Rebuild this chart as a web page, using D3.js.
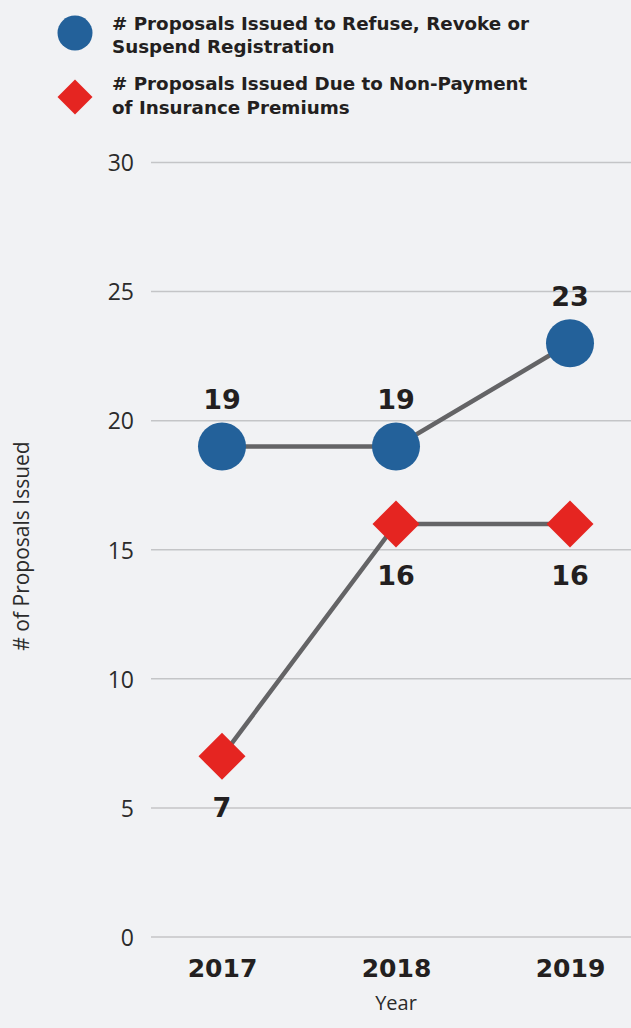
<!DOCTYPE html>
<html><head><meta charset="utf-8">
<script src="https://cdn.jsdelivr.net/npm/d3@7"></script>
<style>
html,body{margin:0;padding:0;background:#f1f2f4;}
svg{display:block;}
</style></head>
<body>
<svg id="c" width="631" height="1028"></svg>
<script>
const years = ["2017", "2018", "2019"];
const refuseValues = [19, 19, 23];
const nonPaymentValues = [7, 16, 16];
const yTicks = [0, 5, 10, 15, 20, 25, 30];
const legendLabels = [
  ["# Proposals Issued to Refuse, Revoke or", "Suspend Registration"],
  ["# Proposals Issued Due to Non-Payment", "of Insurance Premiums"]
];
const yTitle = "# of Proposals Issued";
const xTitle = "Year";

const BLUE = "#23619a", RED = "#e52521", LINE = "#646466", TEXT = "#231f20";
const HEAVY = "DejaVu Sans";
const svg = d3.select("#c");

const x = d3.scalePoint().domain(years).range([222, 570]);
const y = d3.scaleLinear().domain([0, 30]).range([937, 162.5]);

// grid
svg.append("g").selectAll("line").data(yTicks).join("line")
  .attr("x1", 151).attr("x2", 631)
  .attr("y1", d => y(d)).attr("y2", d => y(d))
  .attr("stroke", "#c4c5c7").attr("stroke-width", 1.5);

// y axis labels
const yAxis = d3.axisLeft(y).tickValues(yTicks).tickSize(0).tickPadding(0);
const ga = svg.append("g").attr("transform", "translate(134,0)").call(yAxis);
ga.select(".domain").remove();
ga.selectAll("text").attr("font-family", "Open Sans").attr("font-weight", 400)
  .attr("font-size", 23).attr("fill", "#2b2b2b").attr("dy", "0.36em");

// x axis labels
const xAxis = d3.axisBottom(x).tickSize(0).tickPadding(0);
const gx = svg.append("g").attr("transform", "translate(0,958)").call(xAxis);
gx.select(".domain").remove();
gx.selectAll("text").attr("font-family", HEAVY).attr("font-weight", 700)
  .attr("font-size", 25).attr("fill", TEXT).attr("dy", "0.76em");

svg.append("text").attr("x", 396).attr("y", 1010).attr("text-anchor", "middle")
  .attr("font-family", "Open Sans").attr("font-weight", 400).attr("font-size", 20)
  .attr("fill", "#2b2b2b").text(xTitle);

svg.append("text").attr("transform", "translate(29,546) rotate(-90)")
  .attr("text-anchor", "middle")
  .attr("font-family", "Open Sans").attr("font-weight", 400).attr("font-size", 21)
  .attr("fill", "#2b2b2b").text(yTitle);

const line = d3.line().x((d, i) => x(years[i])).y(d => y(d));
svg.append("path").attr("d", line(nonPaymentValues)).attr("fill", "none")
  .attr("stroke", LINE).attr("stroke-width", 4.5);
svg.append("path").attr("d", line(refuseValues)).attr("fill", "none")
  .attr("stroke", LINE).attr("stroke-width", 4.5);

// markers
svg.append("g").selectAll("circle").data(refuseValues).join("circle")
  .attr("cx", (d, i) => x(years[i])).attr("cy", d => y(d)).attr("r", 24)
  .attr("fill", BLUE);
const diamond = d3.symbol().type(d3.symbolSquare).size(47 * 47 / 2);
svg.append("g").selectAll("path").data(nonPaymentValues).join("path")
  .attr("d", diamond)
  .attr("transform", (d, i) => `translate(${x(years[i])},${y(d)}) rotate(45)`)
  .attr("fill", RED);

// value labels
const lblStyle = s => s.attr("font-family", HEAVY).attr("font-weight", 700)
  .attr("font-size", 27).attr("fill", TEXT).attr("text-anchor", "middle");
svg.append("g").selectAll("text").data(refuseValues).join("text")
  .attr("x", (d, i) => x(years[i])).attr("y", d => y(d) - 37)
  .text(d => d).call(lblStyle);
svg.append("g").selectAll("text").data(nonPaymentValues).join("text")
  .attr("x", (d, i) => x(years[i])).attr("y", d => y(d) + 61)
  .text(d => d).call(lblStyle);

// legend
const lg = svg.append("g");
lg.append("circle").attr("cx", 75).attr("cy", 33).attr("r", 17.5).attr("fill", BLUE);
lg.append("path").attr("d", d3.symbol().type(d3.symbolSquare).size(35 * 35 / 2))
  .attr("transform", "translate(75,97) rotate(45)").attr("fill", RED);
legendLabels.forEach((lines, k) => {
  lines.forEach((t, j) => {
    lg.append("text").attr("x", 112).attr("y", (k === 0 ? 29.5 : 90) + j * 23.5)
      .attr("font-family", HEAVY).attr("font-weight", 700).attr("font-size", 18.3)
      .attr("fill", TEXT).text(t);
  });
});
</script>
</body></html>
